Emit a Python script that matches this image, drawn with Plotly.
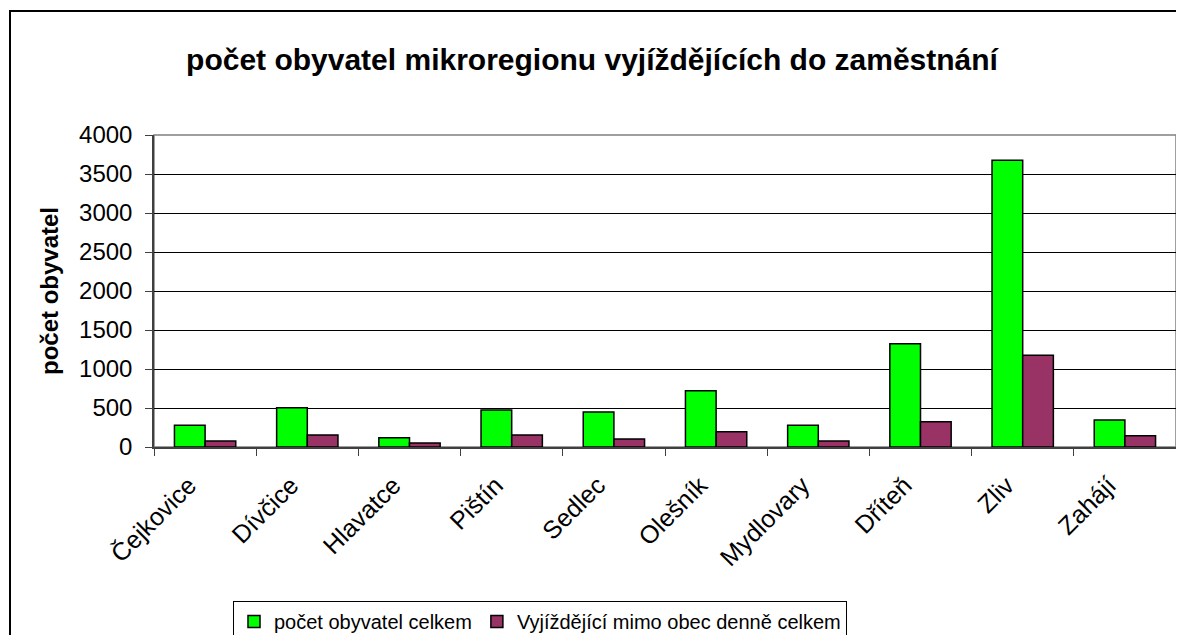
import plotly.graph_objects as go

categories = ["Čejkovice", "Dívčice", "Hlavatce", "Pištín", "Sedlec",
              "Olešník", "Mydlovary", "Dříteň", "Zliv", "Zahájí"]
celkem = [278, 504, 119, 474, 449, 722, 278, 1325, 3675, 346]
vyjizdejici = [77, 154, 51, 154, 103, 197, 77, 325, 1175, 145]

FONT = "Arial, Liberation Sans, sans-serif"
OFF = 8  # default page body margin
W, H = 1184 - 2 * OFF, 643 - 2 * OFF
# plot area in screen pixels
L, R, T, B = 154 - OFF, 1176 - OFF, 135 - OFF, 447 - OFF

fig = go.Figure()
fig.add_trace(go.Bar(x=categories, y=celkem, name="počet obyvatel celkem",
                     marker=dict(color="#00FF00", line=dict(color="black", width=1.5))))
fig.add_trace(go.Bar(x=categories, y=vyjizdejici, name="Vyjíždějící mimo obec denně celkem",
                     marker=dict(color="#993366", line=dict(color="black", width=1.5))))

def px(x):
    return (x - OFF - L) / (R - L)

def py(y):
    return (B - (y - OFF)) / (B - T)

shapes = [
    dict(type="rect", xref="paper", yref="paper", x0=0, x1=1, y0=0, y1=1,
         line=dict(color="#808080", width=1.5), layer="below"),
    # outer chart border: top and left edges (right/bottom lie outside the picture)
    dict(type="line", xref="paper", yref="paper", x0=px(9), x1=px(1190),
         y0=py(11), y1=py(11), line=dict(color="black", width=2)),
    dict(type="line", xref="paper", yref="paper", x0=px(10), x1=px(10),
         y0=py(10), y1=py(660), line=dict(color="black", width=2)),
]

fig.update_layout(
    width=W, height=H,
    margin=dict(l=L, r=W - R, t=T, b=H - B, pad=0, autoexpand=False),
    paper_bgcolor="white", plot_bgcolor="white",
    font=dict(family=FONT, color="black"),
    title=dict(text="<b>počet obyvatel mikroregionu vyjíždějících do zaměstnání</b>",
               x=(592 - OFF) / W, xanchor="center", y=1 - (59 - OFF) / H, yanchor="middle",
               font=dict(size=30, family=FONT, color="black")),
    barmode="group", bargap=0.4, bargroupgap=0,
    showlegend=True,
    legend=dict(orientation="h", x=px(540), xanchor="center", y=py(601), yanchor="top",
                bordercolor="black", borderwidth=1, bgcolor="white",
                font=dict(size=20, family=FONT, color="black"),
                itemwidth=30, traceorder="normal"),
    shapes=shapes,
)

fig.update_xaxes(
    type="category", tickson="boundaries", ticks="outside", ticklen=7,
    tickcolor="#404040", tickwidth=1,
    showline=True, linecolor="#404040", linewidth=1.5,
    showgrid=False, tickangle=-45, automargin=False,
    ticklabelstandoff=12, ticklabelshift=-16,
    tickfont=dict(size=25, family=FONT, color="black"),
)
fig.update_yaxes(
    range=[0, 4000], dtick=500, tick0=0,
    ticks="outside", ticklen=7, tickcolor="#404040", tickwidth=1,
    showline=True, linecolor="#404040", linewidth=1.5,
    showgrid=True, gridcolor="black", gridwidth=1,
    zeroline=False, automargin=False,
    ticklabelstandoff=8,
    tickfont=dict(size=24, family=FONT, color="black"),
    title=dict(text="<b>počet obyvatel</b>", standoff=14,
               font=dict(size=24, family=FONT, color="black")),
)

fig.write_html("out.html")
